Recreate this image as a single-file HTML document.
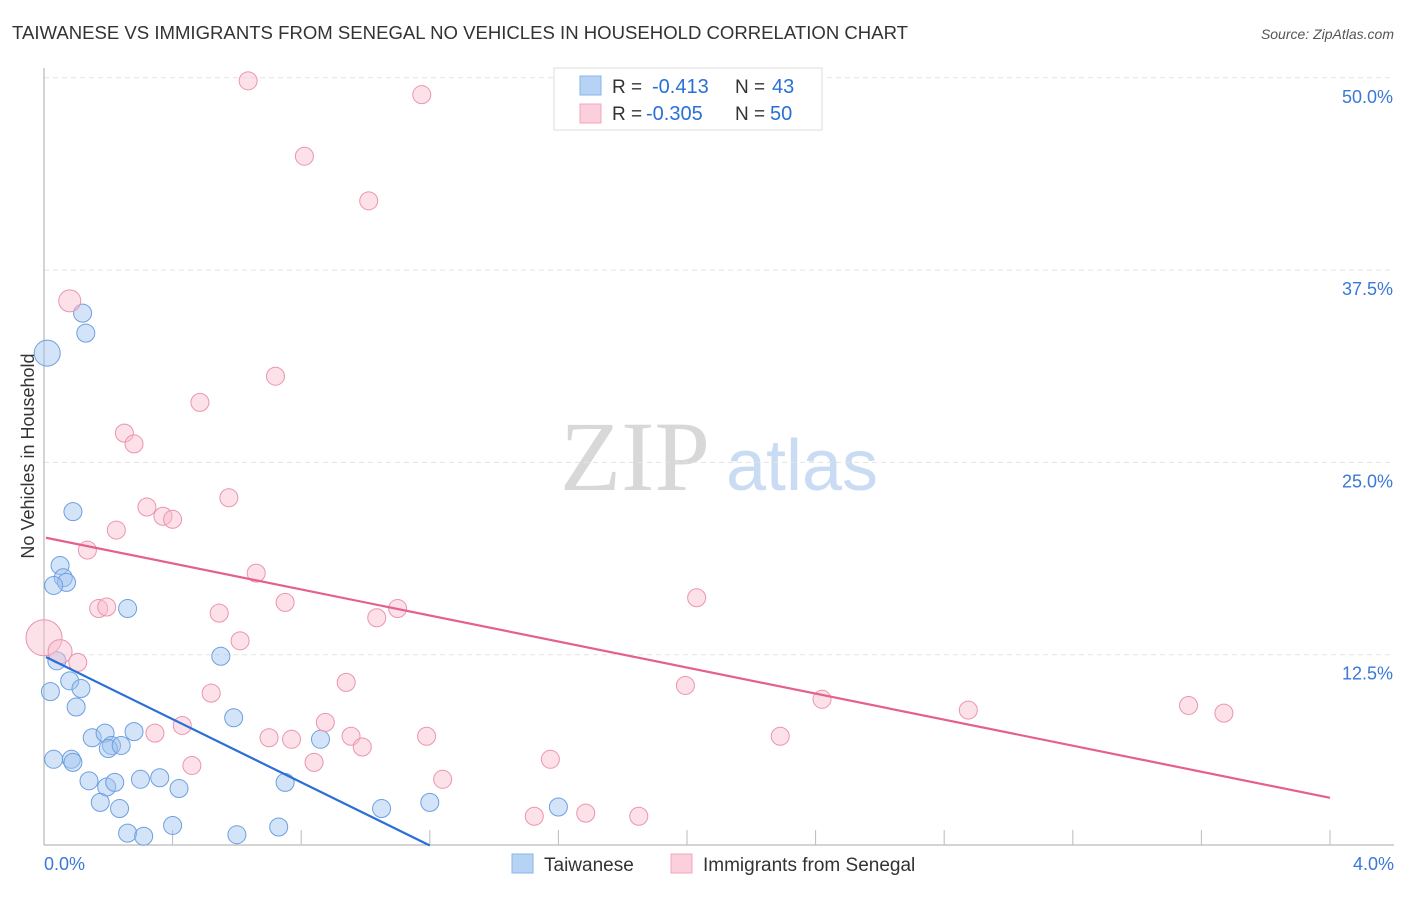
<!DOCTYPE html>
<html><head><meta charset="utf-8"><style>
body{margin:0;background:#fff;font-family:"Liberation Sans",sans-serif;}
</style></head><body>
<svg width="1406" height="892" xmlns="http://www.w3.org/2000/svg" id="chart">
<text x="12" y="39" font-size="18" fill="#333" textLength="896" lengthAdjust="spacingAndGlyphs">TAIWANESE VS IMMIGRANTS FROM SENEGAL NO VEHICLES IN HOUSEHOLD CORRELATION CHART</text>
<text x="1394" y="39" font-size="14" fill="#555" font-style="italic" text-anchor="end">Source: ZipAtlas.com</text>
<text x="635" y="490" font-size="100" fill="#d8d8d8" font-family="Liberation Serif,serif" text-anchor="middle">ZIP</text>
<text x="802" y="490" font-size="72" fill="#c9dcf3" text-anchor="middle">atlas</text>
<text transform="translate(34,456) rotate(-90)" font-size="18" fill="#333" text-anchor="middle">No Vehicles in Household</text>
<g id="grid"></g><g id="pts"></g><g id="lines"></g>
<g>
<rect x="554" y="68" width="268" height="62" fill="#fff" stroke="#ddd"/>
<rect x="580" y="76" width="21" height="19" fill="#b6d3f5" stroke="#8ab4e8"/>
<rect x="580" y="104" width="21" height="19" fill="#fbcfdc" stroke="#f0a4bb"/>
<text x="612" y="93" font-size="19" fill="#333">R =</text>
<text x="652" y="93" font-size="20" fill="#2a6fd6">-0.413</text>
<text x="735" y="93" font-size="19" fill="#333">N =</text>
<text x="772" y="93" font-size="20" fill="#2a6fd6">43</text>
<text x="612" y="120" font-size="19" fill="#333">R =</text>
<text x="646" y="120" font-size="20" fill="#2a6fd6">-0.305</text>
<text x="735" y="120" font-size="19" fill="#333">N =</text>
<text x="770" y="120" font-size="20" fill="#2a6fd6">50</text>
</g>
<g>
<rect x="512" y="854" width="21" height="19" fill="#b6d3f5" stroke="#8ab4e8"/>
<text x="544" y="871" font-size="19" fill="#333">Taiwanese</text>
<rect x="671" y="854" width="21" height="19" fill="#fbcfdc" stroke="#f0a4bb"/>
<text x="703" y="871" font-size="19" fill="#333">Immigrants from Senegal</text>
</g>
</svg>
<script>
const yTicks=[12.5,25,37.5,50];
const yTickLabels=["12.5%","25.0%","37.5%","50.0%"];
const xTickLabels=["0.0%","4.0%"];
const blueX=[0.01,0.12,0.13,0.09,0.05,0.06,0.07,0.03,0.26,0.55,0.04,0.08,0.115,0.02,0.1,0.59,0.15,0.19,0.21,0.20,0.24,0.28,0.86,0.03,0.085,0.09,0.14,0.195,0.22,0.30,0.36,0.42,0.75,0.175,0.235,1.05,1.20,1.60,0.26,0.31,0.40,0.60,0.73];
const blueY=[32.1,34.7,33.4,21.8,18.3,17.5,17.2,17.0,15.5,12.4,12.1,10.8,10.3,10.1,9.1,8.4,7.1,7.4,6.6,6.4,6.6,7.5,7.0,5.7,5.7,5.5,4.3,3.9,4.2,4.4,4.5,3.8,4.2,2.9,2.5,2.5,2.9,2.6,0.9,0.7,1.4,0.8,1.3];
const pinkX=[0.635,1.175,0.81,1.01,0.08,0.72,0.485,0.25,0.28,0.575,0.32,0.37,0.40,0.225,0.135,0.66,0.75,2.03,1.10,1.035,0.17,0.195,0.545,0.61,0.0,0.05,0.105,0.94,1.995,0.52,2.42,2.875,3.56,3.67,0.43,0.875,0.70,0.77,0.955,1.19,2.29,0.345,0.99,0.84,0.46,1.575,1.24,1.525,1.685,1.85];
const pinkY=[49.8,48.9,44.9,42.0,35.5,30.6,28.9,26.9,26.2,22.7,22.1,21.5,21.3,20.6,19.3,17.8,15.9,16.2,15.5,14.9,15.5,15.6,15.2,13.4,13.6,12.7,12.0,10.7,10.5,10.0,9.6,8.9,9.2,8.7,7.9,8.1,7.1,7.0,7.2,7.2,7.2,7.4,6.5,5.5,5.3,5.7,4.4,2.0,2.2,2.0];
const blueTrendX=[0.006,1.2];
const blueTrendY=[12.35,0.1];
const pinkTrendX=[0.006,4.0];
const pinkTrendY=[20.1,3.2];
const X=v=>44+v*321.5, Y=v=>847-v*15.385;
const NS="http://www.w3.org/2000/svg";
function mk(t,a,p){const e=document.createElementNS(NS,t);for(const k in a)e.setAttribute(k,a[k]);p.appendChild(e);return e;}
const grid=document.getElementById('grid'),pts=document.getElementById('pts'),lines=document.getElementById('lines');
yTicks.forEach((t,i)=>{
 const l=mk('line',{x1:44,x2:1394,y1:Y(t),y2:Y(t),stroke:'#e3e3e3','stroke-dasharray':'5,4'},grid);
 
 
 const tx=mk('text',{x:1393,y:Y(t)+25,'font-size':18,fill:'#3a78d8','text-anchor':'end'},grid);
 tx.textContent=yTickLabels[i];
 
 
});
const ax=mk('line',{x1:44,x2:44,y1:68,y2:845,stroke:'#aaa'},grid);


const bx=mk('line',{x1:44,x2:1394,y1:845,y2:845,stroke:'#aaa'},grid);


for(let i=1;i<=10;i++){const t=mk('line',{x1:X(i*0.4),x2:X(i*0.4),y1:830,y2:845,stroke:'#bbb'},grid);
 
 }
[[44,'start',0],[1394,'end',1]].forEach(([x,a,i])=>{const t=mk('text',{x:x,y:870,'font-size':18,fill:'#3a78d8','text-anchor':a},grid);t.textContent=xTickLabels[i];
 
 });
const bigB={0:13}, bigP={4:11,24:18,25:12};
blueX.forEach((v,i)=>{const c=mk('circle',{cx:X(v),cy:Y(blueY[i]),r:bigB[i]||9,fill:'rgba(160,196,240,0.45)',stroke:'#6d9fe0','stroke-width':1},pts);
 
 });
pinkX.forEach((v,i)=>{const c=mk('circle',{cx:X(v),cy:Y(pinkY[i]),r:bigP[i]||9,fill:'rgba(248,188,206,0.45)',stroke:'#ec94b0','stroke-width':1},pts);
 
 });
const l1=mk('line',{x1:X(blueTrendX[0]),y1:Y(blueTrendY[0]),x2:X(blueTrendX[1]),y2:Y(blueTrendY[1]),stroke:'#2a6fd6','stroke-width':2.2},lines);


const l2=mk('line',{x1:X(pinkTrendX[0]),y1:Y(pinkTrendY[0]),x2:X(pinkTrendX[1]),y2:Y(pinkTrendY[1]),stroke:'#e5608c','stroke-width':2.2},lines);


</script>
</body></html>
